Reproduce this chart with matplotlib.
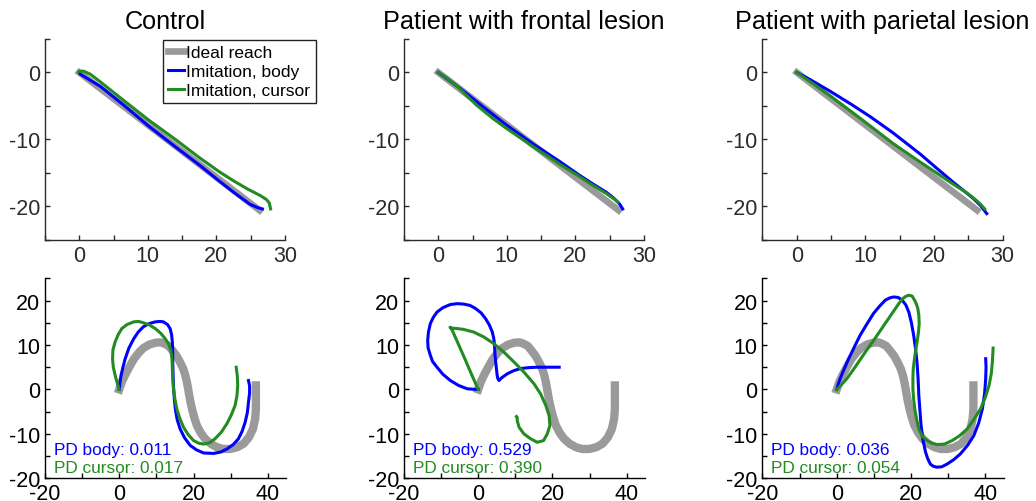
import matplotlib
matplotlib.use('Agg')
import matplotlib.pyplot as plt
import numpy as np

plt.rcParams['font.family'] = ['Liberation Sans', 'DejaVu Sans']

titles = ['Control', 'Patient with frontal lesion', 'Patient with parietal lesion']
labels = ['Ideal reach', 'Imitation, body', 'Imitation, cursor']
pd_body = [0.011, 0.529, 0.036]
pd_cursor = [0.017, 0.390, 0.054]

# top row: straight reach
top_ideal = [(0, 0), (26.3, -20.6)]
ctrl_body_top = [(0, 0), (0.15, -0.25), (1.5, -1.1), (3.1, -2.1), (6.5, -4.9), (10.1, -8.0), (14.0, -11.1),
                 (17.6, -13.9), (20.5, -16.3), (22.5, -17.9), (24.9, -19.7), (26.0, -20.2), (26.7, -20.4)]
ctrl_cursor_top = [(0, 0.15), (0.6, 0.2), (1.6, -0.25), (3.06, -1.4), (6.5, -4.2), (10.1, -7.1), (14.0, -10.0),
                   (17.6, -12.8), (20.5, -14.9), (22.5, -16.2), (24.5, -17.4), (26.4, -18.4), (27.3, -19.0),
                   (27.7, -19.5), (27.9, -20.4)]
frontal_body_top = [(0, 0), (1.5, -1.1), (3.2, -2.4), (6.5, -5.1), (10, -7.9), (14, -10.8), (17.7, -13.3),
                    (20.5, -15.3), (22.6, -16.7), (24.5, -17.9), (25.5, -18.7), (26.4, -19.6), (26.9, -20.4)]
frontal_cursor_top = [(0, 0), (1.2, -0.8), (2.7, -2.0), (4.2, -3.5), (5.6, -4.9), (8, -6.9), (10, -8.4),
                      (14, -11.2), (17.7, -13.7), (20.5, -15.5), (22.6, -16.9), (24.5, -18.1), (25.9, -19.1),
                      (26.2, -19.4)]
parietal_body_top = [(0, 0), (2, -1.1), (4.85, -2.8), (8, -4.8), (10.7, -6.6), (14, -9.0), (18, -12.2),
                     (20.5, -14.4), (22.8, -16.4), (24.5, -17.8), (25.7, -18.8), (26.8, -19.9), (27.7, -21.1)]
parietal_cursor_top = [(0, 0), (2.4, -1.7), (4.85, -3.5), (8, -5.9), (10.7, -8.0), (14, -10.6), (18, -13.4),
                       (20.5, -15.1), (22.8, -16.7), (24.5, -17.8), (25.7, -18.7), (26.7, -19.6), (27.4, -20.4)]

# bottom row: S-shaped reach
bottom_ideal = [(0, 0), (0.7, 1.7), (1.6, 3.3), (2.7, 5.0), (3.9, 6.8), (5.4, 8.4), (6.5, 9.3), (8.1, 10.1),
                (9.7, 10.5), (11.0, 10.6), (11.9, 10.4), (13.3, 9.8), (14.2, 8.9), (15.4, 7.6), (16.4, 6.1),
                (17.2, 4.7), (17.8, 3.2), (18.3, 1.3), (18.7, -0.6), (19.1, -2.5), (19.6, -4.4), (20.2, -6.3),
                (20.9, -8.1), (21.9, -9.7), (23.1, -11.1), (24.6, -12.2), (26.3, -13.0), (28.0, -13.4),
                (29.9, -13.4), (31.8, -13.0), (33.5, -12.2), (34.9, -10.8), (36.0, -8.9), (36.6, -6.6),
                (36.8, -4.4), (36.8, 0.9)]
ctrl_body = [(0, 0), (0.2, 1.6), (0.5, 3.2), (1.0, 5.0), (1.6, 6.9), (2.6, 9.3), (3.9, 11.4), (5.1, 12.9),
             (6.5, 14.1), (8.0, 14.8), (9.7, 15.2), (11.0, 15.3), (11.9, 15.2), (13.0, 14.6), (13.7, 13.7),
             (14.1, 12.3), (14.3, 10.7), (14.4, 8.5), (14.4, 6.2), (14.5, 3.5), (14.6, 0.9), (14.8, -1.8),
             (15.1, -4.4), (15.6, -6.8), (16.4, -8.9), (17.6, -10.9), (19.1, -12.6), (20.8, -13.6),
             (22.7, -14.3), (25.4, -14.4), (27.3, -14.1), (29.0, -13.4), (30.7, -12.4), (32.1, -11.1),
             (33.1, -9.4), (33.9, -7.4), (34.5, -5.2), (34.8, -2.9), (35.1, -0.8), (35.1, 0.8), (34.8, 2.0)]
ctrl_cursor = [(0, 0), (-0.6, 1.6), (-1.1, 3.2), (-1.6, 5.0), (-1.8, 6.9), (-1.7, 8.9), (-1.1, 10.7),
               (-0.3, 12.3), (0.7, 13.7), (2.1, 14.6), (3.9, 15.2), (5.2, 15.3), (6.5, 15.0), (8.1, 14.5),
               (9.7, 13.7), (11.2, 12.6), (12.4, 11.4), (13.3, 10.2), (13.9, 8.8), (14.2, 6.8), (14.3, 4.7),
               (14.4, 2.4), (14.6, 0.2), (15.0, -2.2), (15.5, -4.4), (16.3, -6.5), (17.3, -8.5), (18.6, -10.2),
               (20.0, -11.5), (21.4, -12.1), (22.7, -12.3), (24.3, -12.0), (25.8, -11.1), (27.5, -9.6),
               (29.0, -7.7), (30.2, -5.7), (31.2, -3.6), (31.7, -1.4), (31.9, 0.9), (31.8, 3.0), (31.5, 5.0)]
frontal_body = [(0, 0), (-1.5, 0.05), (-3.0, 0.15), (-5.3, 0.9), (-7.5, 2.0), (-9.5, 3.4), (-11.1, 5.0),
                (-12.3, 6.3), (-12.9, 7.7), (-13.5, 9.4), (-13.6, 11.05), (-13.4, 12.9), (-12.9, 14.8),
                (-12.1, 16.2), (-11.1, 17.4), (-9.5, 18.4), (-7.5, 19.1), (-5.6, 19.3), (-3.9, 19.2),
                (-2.2, 18.9), (-0.7, 18.2), (0.8, 17.2), (2.0, 15.9), (3.0, 14.5), (3.8, 12.9), (4.2, 11.4),
                (4.4, 9.9), (4.5, 8.0), (4.7, 6.2), (4.9, 4.7), (5.1, 3.2), (5.3, 2.4), (5.6, 2.0), (6.3, 2.6),
                (7.8, 3.5), (9.5, 4.2), (11.4, 4.7), (13.6, 4.9), (15.9, 5.0), (18.8, 5.0), (21.8, 5.0)]
frontal_cursor = [(0, 0), (-1.8, 3.4), (-3.6, 6.9), (-5.4, 10.3), (-7.2, 13.7), (-7.6, 14.0), (-7.2, 13.8),
                  (-5.7, 13.7), (-3.9, 13.5), (-1.2, 12.9), (1.5, 11.8), (4.2, 10.3), (6.9, 8.4), (9.6, 6.2),
                  (12.3, 3.9), (15.0, 1.3), (16.8, -1.0), (18.2, -3.6), (19.1, -5.9), (19.3, -8.1),
                  (18.6, -10.0), (17.6, -11.5), (15.9, -11.9), (14.1, -11.1), (12.3, -10.0), (11.0, -8.5),
                  (10.5, -7.0), (10.5, -6.3), (10.3, -6.1)]
parietal_body = [(0, 0), (0.4, 1.2), (0.9, 2.4), (2.0, 4.6), (3.2, 6.9), (4.7, 9.5), (6.3, 12.2), (8.1, 14.7),
                 (9.9, 17.1), (11.6, 18.8), (13.1, 20.1), (14.3, 20.6), (15.3, 20.8), (16.5, 20.7), (17.6, 20.1),
                 (18.6, 19.0), (19.4, 17.4), (20.1, 15.0), (20.7, 12.2), (21.2, 9.2), (21.6, 6.2), (21.9, 2.4),
                 (22.1, -1.4), (22.4, -4.8), (22.7, -8.1), (23.2, -11.3), (23.9, -14.1), (24.5, -15.6),
                 (25.2, -16.8), (26.0, -17.3), (27.0, -17.5), (28.3, -17.4), (29.7, -16.8), (31.5, -15.8),
                 (33.3, -14.5), (35.2, -12.6), (36.9, -10.4), (38.2, -7.6), (39.2, -4.4), (39.8, -1.0),
                 (40.1, 2.4), (40.2, 5.0), (40.1, 6.9)]
parietal_cursor = [(0, 0), (1.3, 1.1), (2.7, 2.4), (4.5, 4.5), (6.3, 6.7), (8.1, 8.9), (9.9, 11.0), (11.7, 13.2),
                   (13.5, 15.4), (15.3, 17.6), (16.7, 19.3), (17.6, 20.3), (18.5, 20.9), (19.4, 21.2),
                   (20.3, 21.0), (21.2, 19.7), (21.8, 18.3), (22.1, 16.7), (22.2, 14.8), (22.0, 12.9),
                   (21.6, 10.5), (21.1, 8.0), (20.6, 4.7), (20.5, 2.4), (20.5, 0.15), (20.7, -2.2), (21.0, -4.4),
                   (21.5, -6.7), (22.1, -8.9), (23.0, -10.5), (24.3, -11.5), (25.6, -12.1), (27.0, -12.4),
                   (29.0, -12.3), (31.1, -11.5), (33.1, -10.4), (35.1, -8.9), (36.9, -6.8), (38.7, -4.4),
                   (40.0, -1.8), (41.0, 0.9), (41.6, 3.5), (41.9, 6.2), (42.1, 9.3)]

top_body = [ctrl_body_top, frontal_body_top, parietal_body_top]
top_cursor = [ctrl_cursor_top, frontal_cursor_top, parietal_cursor_top]
bot_body = [ctrl_body, frontal_body, parietal_body]
bot_cursor = [ctrl_cursor, frontal_cursor, parietal_cursor]

GRAY = '#9a9a9a'
BLUE = '#0000ff'
GREEN = '#228b22'

fig = plt.figure(figsize=(10.36, 5.02), dpi=100)
lefts = [0.0434, 0.3899, 0.7360]


def xy(pts):
    a = np.array(pts, dtype=float)
    return a[:, 0], a[:, 1]


def style(ax, xt, xlab, yt, ylab, col):
    for s in ['top', 'right']:
        ax.spines[s].set_visible(False)
    for s in ['left', 'bottom']:
        ax.spines[s].set_color(col)
        ax.spines[s].set_linewidth(1.0)
    ax.set_xticks(xt)
    ax.set_xticklabels([str(v) if v in xlab else '' for v in xt])
    ax.set_yticks(yt)
    ax.set_yticklabels([str(v) if v in ylab else '' for v in yt])
    ax.tick_params(direction='in', length=3.5, width=1, labelsize=15.5, colors=col, pad=3.5)


for i in range(3):
    # top row
    ax = fig.add_axes([lefts[i], 0.5205, 0.2317, 0.3998])
    ax.plot(*xy(top_ideal), color=GRAY, lw=4.8, solid_capstyle='projecting', label=labels[0])
    ax.plot(*xy(top_body[i]), color=BLUE, lw=2.2, label=labels[1])
    ax.plot(*xy(top_cursor[i]), color=GREEN, lw=2.2, label=labels[2])
    ax.set_xlim(-5, 30)
    ax.set_ylim(-25, 5)
    style(ax, list(range(-5, 31, 5)), [0, 10, 20, 30], list(range(-25, 6, 5)), [0, -10, -20], '#2b2b2b')
    ax.set_title(titles[i], fontsize=18.2, pad=8)
    if i == 0:
        leg = ax.legend(loc='upper left', bbox_to_anchor=(163 / 1036, 1 - 41 / 502),
                        bbox_transform=fig.transFigure, fontsize=12.5, frameon=True, fancybox=False,
                        edgecolor='#222222', framealpha=1, handlelength=0.9, handletextpad=0.15,
                        borderpad=0.3, labelspacing=0.2, borderaxespad=0)
        leg.get_frame().set_linewidth(1.0)

    # bottom row
    ax = fig.add_axes([lefts[i], 0.0452, 0.2330, 0.3984])
    ax.plot(*xy(bottom_ideal), color=GRAY, lw=6, solid_capstyle='projecting')
    ax.plot(*xy(bot_body[i]), color=BLUE, lw=2.2)
    ax.plot(*xy(bot_cursor[i]), color=GREEN, lw=2.2)
    ax.set_xlim(-20, 45)
    ax.set_ylim(-20, 25)
    style(ax, list(range(-20, 41, 10)), [-20, 0, 20, 40], list(range(-20, 26, 5)), [-20, -10, 0, 10, 20], 'black')
    ax.text(0.036, 0.12, 'PD body: %.3f' % pd_body[i], color=BLUE, fontsize=12.4, transform=ax.transAxes,
            va='baseline')
    ax.text(0.036, 0.033, 'PD cursor: %.3f' % pd_cursor[i], color=GREEN, fontsize=12.4, transform=ax.transAxes,
            va='baseline')

fig.savefig('out.png', dpi=100)
